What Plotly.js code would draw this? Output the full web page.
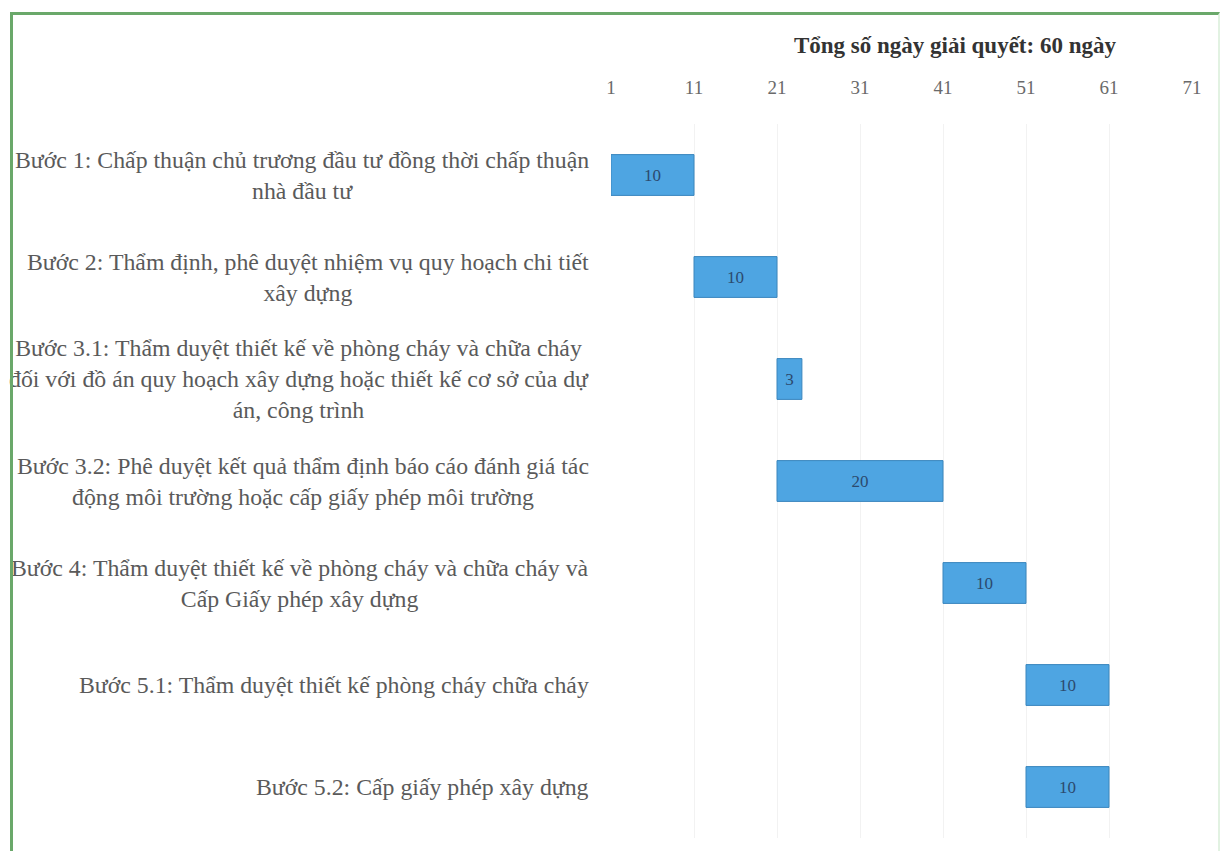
<!DOCTYPE html>
<html>
<head>
<meta charset="utf-8">
<script src="https://cdn.plot.ly/plotly-3.0.1.min.js"></script>
<style>
  html, body { margin: 0; padding: 0; background: #ffffff; }
  #wrap { position: relative; width: 1220px; height: 851px; overflow: hidden; }
  #chart { position: absolute; left: 0; top: 0; width: 1220px; height: 851px; }
  #frame { position: absolute; left: 10px; top: 12px; width: 1205px; height: 860px;
           border-top: 3px solid #6aa86a; border-left: 3px solid #6aa86a;
           border-right: 2px solid #e2f2e2; pointer-events: none; }
</style>
</head>
<body>
<div id="wrap">
  <div id="chart"></div>
  <div id="frame"></div>
</div>
<script>
const stepLabels = [
  "Bước 1: Chấp thuận chủ trương đầu tư đồng thời chấp thuận<br>nhà đầu tư",
  "Bước 2: Thẩm định, phê duyệt nhiệm vụ quy hoạch chi tiết<br>xây dựng",
  "Bước 3.1: Thẩm duyệt thiết kế về phòng cháy và chữa cháy<br>đối với đồ án quy hoạch xây dựng hoặc thiết kế cơ sở của dự<br>án, công trình",
  "Bước 3.2: Phê duyệt kết quả thẩm định báo cáo đánh giá tác<br>động môi trường hoặc cấp giấy phép môi trường",
  "Bước 4: Thẩm duyệt thiết kế về phòng cháy và chữa cháy và<br>Cấp Giấy phép xây dựng",
  "Bước 5.1: Thẩm duyệt thiết kế phòng cháy chữa cháy",
  "Bước 5.2: Cấp giấy phép xây dựng"
];
const startDay = [1, 11, 21, 21, 41, 51, 51];
const durationDays = [10, 10, 3, 20, 10, 10, 10];
const tickValues = [1, 11, 21, 31, 41, 51, 61, 71];
const axisTitle = "Tổng số ngày giải quyết: 60 ngày";

const serif = "'Liberation Serif', 'DejaVu Serif', serif";

const trace = {
  type: 'bar',
  orientation: 'h',
  y: stepLabels,
  x: durationDays,
  base: startDay,
  width: 0.4,
  text: durationDays.map(String),
  textposition: 'inside',
  insidetextanchor: 'middle',
  textfont: { family: serif, size: 17, color: '#2c4a6e' },
  marker: { color: '#4ea5e2', line: { color: '#3a86bd', width: 1 } },
  hoverinfo: 'skip',
  cliponaxis: false
};

const annotations = stepLabels.map(lbl => ({
  xref: 'paper', yref: 'y',
  x: -0.035, y: lbl,
  xanchor: 'right', yanchor: 'middle',
  align: 'center',
  text: lbl,
  showarrow: false,
  font: { family: serif, size: 23.8, color: '#5a5a5a' }
}));

const layout = {
  width: 1220, height: 851,
  paper_bgcolor: '#ffffff', plot_bgcolor: '#ffffff',
  margin: { l: 611, r: 28, t: 124, b: 13 },
  showlegend: false,
  title: {
    text: '<b>' + axisTitle + '</b>',
    x: 0.592, xref: 'paper', xanchor: 'center',
    y: 1 - 45 / 851, yref: 'container', yanchor: 'middle',
    font: { family: serif, size: 23, color: '#333333' }
  },
  xaxis: {
    side: 'top',
    range: [1, 71],
    tickmode: 'array',
    tickvals: tickValues,
    ticktext: tickValues.map(String),
    tickfont: { family: serif, size: 19, color: '#6a6a6a' },
    ticklabelstandoff: 25,
    showgrid: true, gridcolor: '#f2f2f2', gridwidth: 1,
    zeroline: false, showline: false, ticks: ''
  },
  yaxis: {
    type: 'category',
    categoryorder: 'array',
    categoryarray: stepLabels,
    autorange: 'reversed',
    showticklabels: false,
    showgrid: false, zeroline: false, showline: false, ticks: ''
  },
  annotations: annotations
};

Plotly.newPlot('chart', [trace], layout, { displayModeBar: false, staticPlot: true });
</script>
</body>
</html>
